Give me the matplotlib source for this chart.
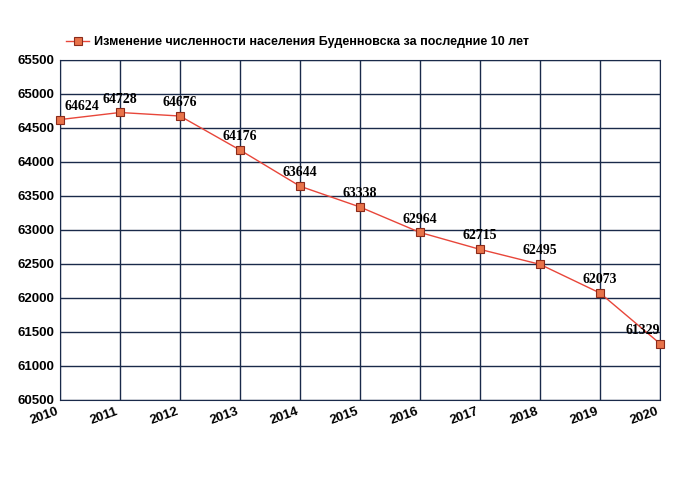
import matplotlib
matplotlib.use("Agg")
import matplotlib.pyplot as plt

years = [2010, 2011, 2012, 2013, 2014, 2015, 2016, 2017, 2018, 2019, 2020]
population = [64624, 64728, 64676, 64176, 63644, 63338, 62964, 62715, 62495, 62073, 61329]
title = "Изменение численности населения Буденновска за последние 10 лет"

fig = plt.figure(figsize=(6.8, 5), dpi=100)
ax = fig.add_axes([60 / 680, 0.2, 600 / 680, 0.68])

ax.plot(years, population, color="#e8463a", lw=1, marker="s", ms=6,
        mfc="#e8734a", mec="#8b2a1a", mew=0.8, label=title, clip_on=False, zorder=3)

for i, (x, y) in enumerate(zip(years, population)):
    ha = "left" if i == 0 else ("right" if i == len(years) - 1 else "center")
    dx = 3 if i == 0 else 0
    ax.annotate(str(y), (x, y), xytext=(dx, 5), textcoords="offset points",
                ha=ha, va="bottom", fontsize=10, fontweight="bold",
                family="Liberation Serif", zorder=4)

ax.set_xlim(2010, 2020)
ax.set_ylim(60500, 65500)
ax.set_xticks(years)
ax.set_yticks(range(60500, 65501, 500))
ax.grid(True, color="#1a2a4a", lw=1)
for s in ax.spines.values():
    s.set_color("#1a2a4a")
ax.tick_params(length=0, pad=4)
for lbl in ax.get_yticklabels():
    lbl.set_fontweight("bold")
    lbl.set_family("Liberation Sans")
    lbl.set_fontsize(9.5)
for lbl in ax.get_xticklabels():
    lbl.set_fontweight("bold")
    lbl.set_family("Liberation Sans")
    lbl.set_fontsize(9.5)
    lbl.set_rotation(20)
    lbl.set_ha("right")

leg = fig.legend(loc="upper left", bbox_to_anchor=(55 / 680, 0.95), frameon=False,
                 prop={"family": "Liberation Sans", "weight": "bold", "size": 9},
                 handlelength=1.8, handletextpad=0.4)

fig.savefig("out.png", dpi=100)
